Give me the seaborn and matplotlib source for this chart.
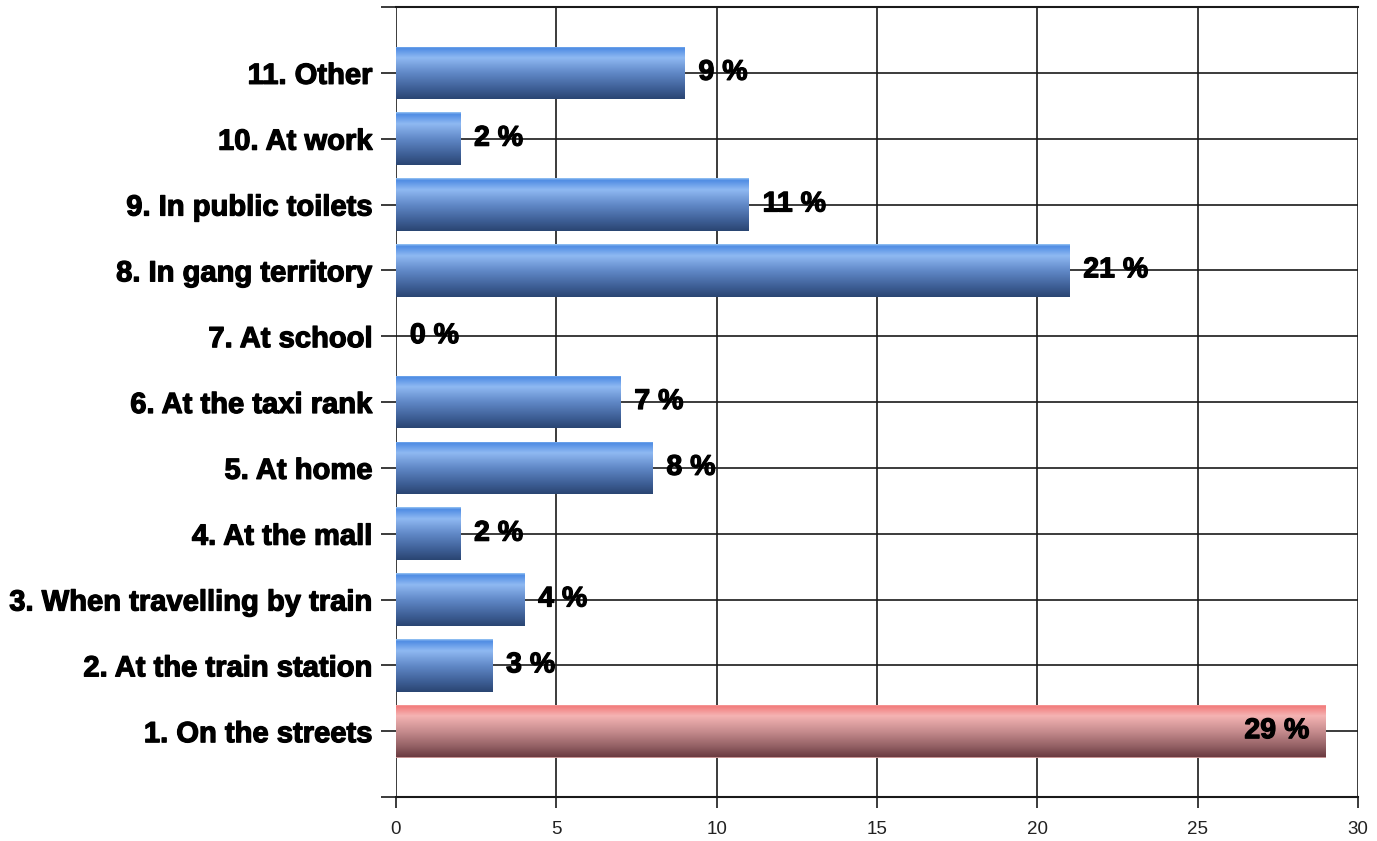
import numpy as np
import pandas as pd
import matplotlib
matplotlib.use("Agg")
import matplotlib.pyplot as plt
import matplotlib.patheffects as pe
import seaborn as sns
from matplotlib.colors import LinearSegmentedColormap

categories = ["11. Other", "10. At work", "9. In public toilets", "8. In gang territory",
              "7. At school", "6. At the taxi rank", "5. At home", "4. At the mall",
              "3. When travelling by train", "2. At the train station", "1. On the streets"]
values = [9, 2, 11, 21, 0, 7, 8, 2, 4, 3, 29]
highlight = [False] * 10 + [True]
x_ticks = [0, 5, 10, 15, 20, 25, 30]

df = pd.DataFrame({"place": categories, "pct": values,
                   "group": ["top" if h else "other" for h in highlight]})

sns.set_theme(style="white")
plt.rcParams["font.family"] = ["Liberation Sans", "DejaVu Sans"]

fig = plt.figure(figsize=(13.77, 8.41), dpi=100)
ax = fig.add_axes([396 / 1377, 1 - 797 / 841, (1358 - 396) / 1377, (797 - 7) / 841])

sns.barplot(data=df, y="place", x="pct", hue="group", order=categories,
            palette={"other": "#5b88c8", "top": "#d08a8a"}, dodge=False,
            width=0.8, legend=False, edgecolor="none", ax=ax, zorder=3)

blue_cmap = LinearSegmentedColormap.from_list("blue", [
    (0.0, "#9cc8f4"), (0.04, "#4f8ce4"), (0.22, "#8fb9f2"), (0.5, "#6189c8"),
    (0.8, "#3e5f96"), (1.0, "#2a4572")])
red_cmap = LinearSegmentedColormap.from_list("red", [
    (0.0, "#f8c0c0"), (0.04, "#f27c7c"), (0.22, "#f5b3b3"), (0.5, "#c98e90"),
    (0.8, "#936064"), (1.0, "#6a3a40")])

grad = np.linspace(0, 1, 256).reshape(-1, 1)
for patch in ax.patches:
    w = patch.get_width()
    if w <= 0:
        continue
    y0 = patch.get_y()
    h = patch.get_height()
    cmap = red_cmap if w == max(values) else blue_cmap
    im = ax.imshow(grad, cmap=cmap, aspect="auto", extent=(0, w, y0 + h, y0),
                   origin="upper", zorder=4, interpolation="bilinear")
    im.set_clip_path(patch)

ax.set_xlim(0, 30)
ax.set_ylim(len(categories), -1)

# ticks and grid
ax.set_yticks(range(-1, len(categories) + 1))
ax.set_yticklabels([""] + categories + [""])
ax.set_xticks(x_ticks)
ax.set_xticklabels([str(t) for t in x_ticks])
ax.grid(True, color="#1a1a1a", linewidth=1.2, zorder=1)
ax.set_axisbelow(True)
for name, s in ax.spines.items():
    if name in ("top", "bottom"):
        s.set_visible(True)
        s.set_color("#1a1a1a")
        s.set_linewidth(1.5)
    else:
        s.set_visible(False)
ax.tick_params(axis="y", length=11, width=1.2, color="#1a1a1a", pad=6, left=True)
ax.tick_params(axis="x", length=8, width=1.2, color="#1a1a1a", pad=9, bottom=True)
bold_fx = [pe.withStroke(linewidth=0.9, foreground="black")]
for lab in ax.get_yticklabels():
    lab.set_fontweight("bold")
    lab.set_fontsize(21)
    lab.set_color("black")
    lab.set_path_effects(bold_fx)
for lab in ax.get_xticklabels():
    lab.set_family(["Liberation Sans Narrow", "Liberation Sans", "DejaVu Sans"])
    lab.set_fontsize(13.5)
    lab.set_color("#222222")
ax.set_xlabel("")
ax.set_ylabel("")

# value labels
for i, (v, hl) in enumerate(zip(values, highlight)):
    if hl:
        ax.annotate(f"{v} %", xy=(v, i), xytext=(-12, 0), textcoords="offset points",
                    ha="right", va="center", fontsize=20.5, fontweight="bold",
                    color="black", zorder=6, path_effects=bold_fx)
    else:
        ax.annotate(f"{v} %", xy=(v, i), xytext=(10, 0), textcoords="offset points",
                    ha="left", va="center", fontsize=20.5, fontweight="bold",
                    color="black", zorder=6, path_effects=bold_fx)

fig.savefig("out.png", dpi=100, facecolor="white")
